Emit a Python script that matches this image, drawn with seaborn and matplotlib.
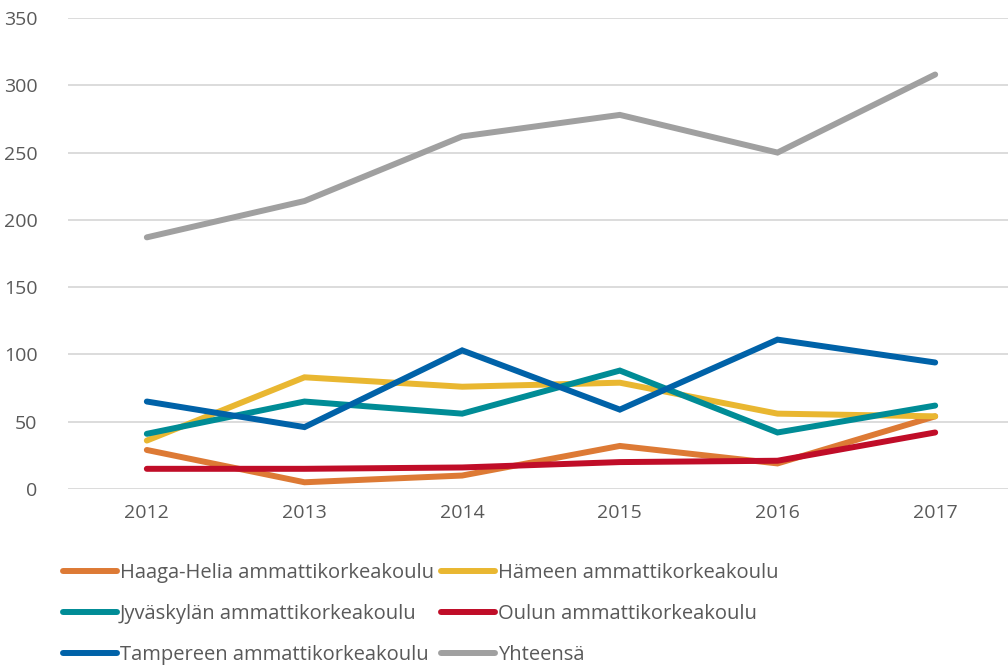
import matplotlib.pyplot as plt
import pandas as pd
import seaborn as sns

years = ["2012", "2013", "2014", "2015", "2016", "2017"]
haaga = [29, 5, 10, 32, 19, 54]
hameen = [36, 83, 76, 79, 56, 54]
jyvaskyla = [41, 65, 56, 88, 42, 62]
oulu = [15, 15, 16, 20, 21, 42]
tampere = [65, 46, 103, 59, 111, 94]
yhteensa = [187, 214, 262, 278, 250, 308]

names = ["Haaga-Helia ammattikorkeakoulu", "Hämeen ammattikorkeakoulu",
         "Jyväskylän ammattikorkeakoulu", "Oulun ammattikorkeakoulu",
         "Tampereen ammattikorkeakoulu", "Yhteensä"]
colors = ["#DD7A35", "#E9B731", "#008C96", "#C00D28", "#0062A8", "#A0A0A0"]

rows = []
for name, vals in zip(names, [haaga, hameen, jyvaskyla, oulu, tampere, yhteensa]):
    for y, v in zip(years, vals):
        rows.append({"vuosi": y, "arvo": v, "sarja": name})
df = pd.DataFrame(rows)

sns.set_style("white")
plt.rcParams["font.family"] = ["Open Sans", "DejaVu Sans"]

fig = plt.figure(figsize=(10.08, 6.65), dpi=100)
ax = fig.add_axes([68 / 1008, 1 - 489 / 665, (1014 - 68) / 1008, (489 - 18) / 665])

sns.lineplot(data=df, x="vuosi", y="arvo", hue="sarja", hue_order=names,
             palette=colors, linewidth=4.3, ax=ax, sort=False,
             solid_capstyle="round", solid_joinstyle="miter")

ax.set_ylim(0, 350)
ax.set_xlim(-0.5, 5.5)
ax.set_yticks(range(0, 351, 50))
ax.grid(axis="y", color="#D9D9D9", linewidth=1.3)
ax.set_axisbelow(True)
for s in ax.spines.values():
    s.set_visible(False)
ax.set_xlabel("")
ax.set_ylabel("")
ax.tick_params(axis="both", length=0, labelsize=14, labelcolor="#595959")
ax.tick_params(axis="y", pad=22)
ax.tick_params(axis="x", pad=11)

handles, labels = ax.get_legend_handles_labels()
ax.get_legend().remove()
order = [0, 2, 4, 1, 3, 5]
for h in handles:
    h.set_solid_capstyle("round")
fig.legend([handles[i] for i in order], [labels[i] for i in order],
           loc="upper left", bbox_to_anchor=(55 / 1008, 1 - 555 / 665),
           ncol=2, frameon=False, fontsize=14.5, labelcolor="#595959",
           handlelength=2.7, handletextpad=0.12, columnspacing=0.35,
           labelspacing=1.05, borderaxespad=0)

fig.savefig("out.png", dpi=100)
